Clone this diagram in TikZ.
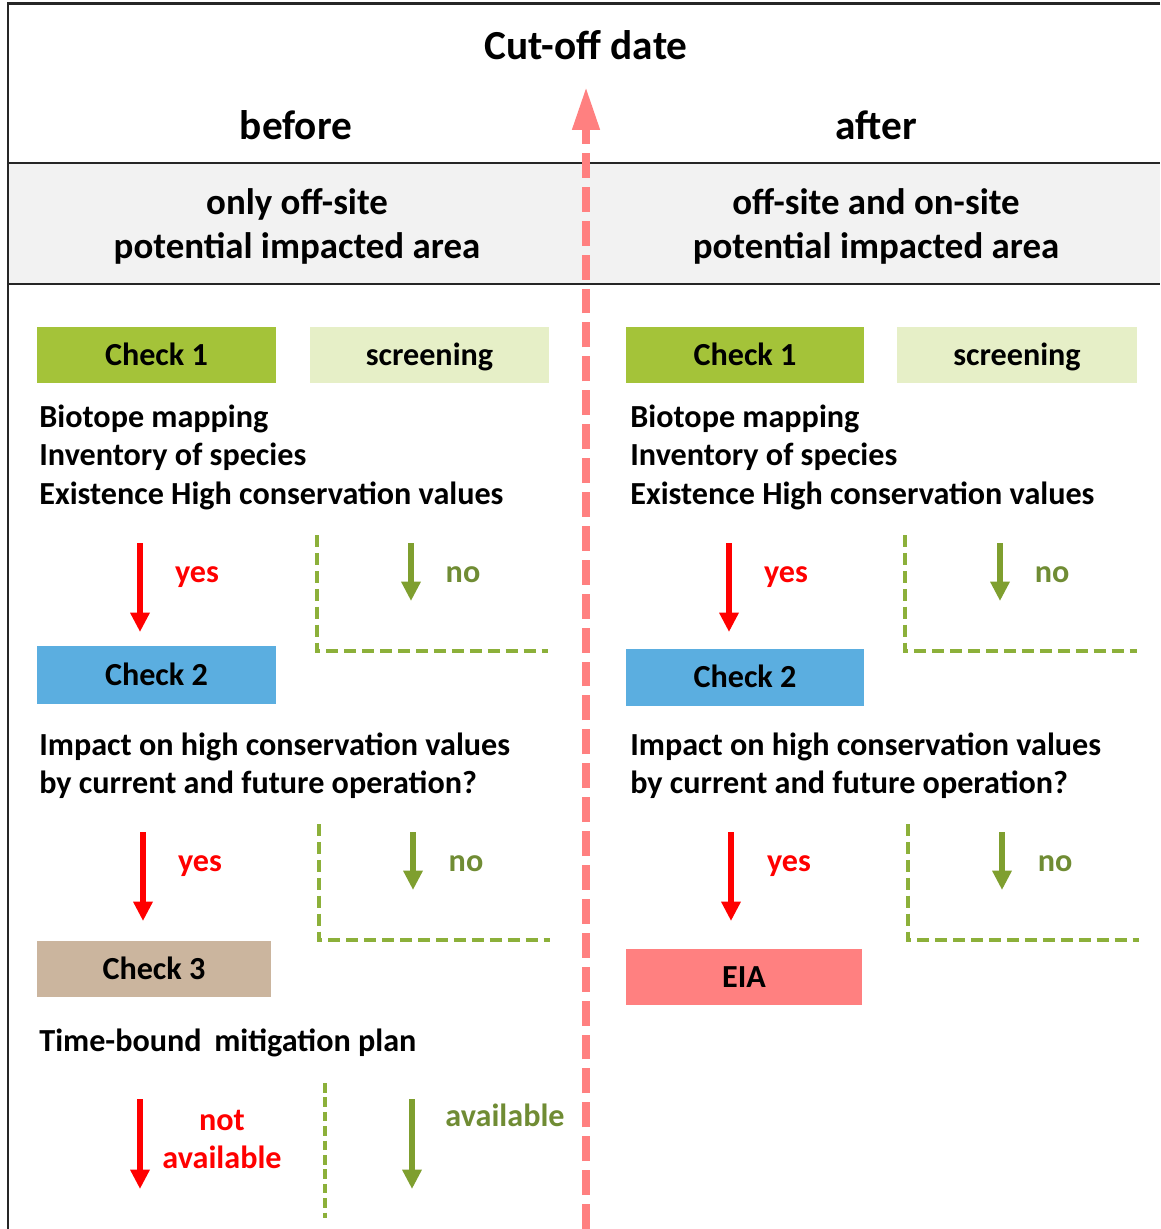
\documentclass[tikz,border=0pt]{standalone}
\usepackage{fontspec}
\setmainfont{Carlito}
\usepackage{tikz}
\usetikzlibrary{arrows.meta}
\usetikzlibrary{positioning}
\usepackage{color}
\definecolor{checkgreen}{RGB}{164,195,57}
\definecolor{screengreen}{RGB}{230,239,199}
\definecolor{checkblue}{RGB}{91,174,224}
\definecolor{checktan}{RGB}{203,181,158}
\definecolor{eiared}{RGB}{255,128,128}
\definecolor{cutred}{RGB}{255,128,128}
\definecolor{notext}{RGB}{112,140,52}
\definecolor{noarrowgreen}{RGB}{127,159,47}
\definecolor{nodash}{RGB}{140,176,58}
\definecolor{bandgray}{RGB}{242,242,242}
\definecolor{rulegray}{RGB}{38,38,38}

\tikzset{
  bodyfont/.style={font=\fontsize{18.3}{22}\selectfont\bfseries},
  stage/.style={bodyfont, minimum width=4.78cm, minimum height=1.12cm, inner sep=0pt,
                text height=11.8pt, text depth=0pt},
  txt/.style={bodyfont, anchor=base west, inner sep=0pt},
  yeslabel/.style={bodyfont, anchor=base, inner sep=0pt, text=red},
  nolabel/.style={bodyfont, anchor=base, inner sep=0pt, text=notext},
  yesarrow/.style={draw=red, line width=3.2pt, -{Triangle[width=10.5pt,length=11pt]}},
  noarrow/.style={draw=noarrowgreen, line width=3.2pt, -{Triangle[width=10.5pt,length=11pt]}},
  noframe/.style={draw=nodash, line width=2.2pt, dash pattern=on 6.8pt off 3.4pt},
}

\begin{document}
\begin{tikzpicture}[x=0.02cm, y=-0.02cm]
            % Frame to fix the page size
            \useasboundingbox (0,0) rectangle (1160,1229);
            % Header band and rules
            \fill[bandgray] (8,163) rectangle (1160,284);
            \draw[rulegray, line width=1.7pt] (1160,4) -- (8,4) -- (8,1229);
            \draw[rulegray, line width=1.7pt] (8,163) -- (1160,163);
            \draw[rulegray, line width=1.7pt] (8,284) -- (1160,284);
            % Headings
            \node[anchor=base, inner sep=0pt, font=\fontsize{23.5}{28}\selectfont\bfseries] (cutoff) at (586,60) {Cut-off date};
            \node[anchor=base, inner sep=0pt, font=\fontsize{23.5}{28}\selectfont\bfseries] (before) at (296,140) {before};
            \node[anchor=base, inner sep=0pt, font=\fontsize{23.5}{28}\selectfont\bfseries] (after) at (876,140) {after};
            \node[anchor=base, inner sep=0pt, font=\fontsize{21}{25}\selectfont\bfseries] (offsite) at (297,215) {only off-site};
            \node[anchor=base, inner sep=0pt, font=\fontsize{21}{25}\selectfont\bfseries] (offarea) at (297,259) {potential impacted area};
            \node[anchor=base, inner sep=0pt, font=\fontsize{21}{25}\selectfont\bfseries] (onsite) at (876,215) {off-site and on-site};
            \node[anchor=base, inner sep=0pt, font=\fontsize{21}{25}\selectfont\bfseries] (onarea) at (876,259) {potential impacted area};

            % BEFORE: check 1
            \node[stage, fill=checkgreen] (checkoneL) at (156.5,355) {Check 1};
            \node[stage, fill=screengreen] (screenL) at (429.5,355) {screening};
            \node[txt] (bioL) at (39,427) {Biotope mapping};
            \node[txt] (invL) at (39,465.5) {Inventory of species};
            \node[txt] (hcvL) at (39,504) {Existence High conservation values};
            \coordinate (yesoneLa) at (140,543);
            \coordinate (yesoneLb) at (140,632);
            \coordinate (nooneLa) at (411,543);
            \coordinate (nooneLb) at (411,601);
            \coordinate (frameoneLa) at (317,535);
            \coordinate (frameoneLb) at (317,651);
            \coordinate (frameoneLc) at (548,651);
            \draw[yesarrow] (yesoneLa) -- (yesoneLb);
            \draw[noarrow] (nooneLa) -- (nooneLb);
            \draw[noframe] (frameoneLa) -- (frameoneLb) -- (frameoneLc);
            \node[yeslabel] (yesoneL) at (197,582) {yes};
            \node[nolabel] (nooneL) at (463,582) {no};

            % BEFORE: check 2
            \node[stage, fill=checkblue, minimum height=1.16cm] (checktwoL) at (156.5,675) {Check 2};
            \node[txt] (impactL) at (39,755) {Impact on high conservation values};
            \node[txt] (operL) at (39,793) {by current and future operation?};
            \coordinate (yestwoLa) at (143,832);
            \coordinate (yestwoLb) at (143,921);
            \coordinate (notwoLa) at (413,832);
            \coordinate (notwoLb) at (413,890);
            \coordinate (frametwoLa) at (319,824);
            \coordinate (frametwoLb) at (319,940);
            \coordinate (frametwoLc) at (550,940);
            \draw[yesarrow] (yestwoLa) -- (yestwoLb);
            \draw[noarrow] (notwoLa) -- (notwoLb);
            \draw[noframe] (frametwoLa) -- (frametwoLb) -- (frametwoLc);
            \node[yeslabel] (yestwoL) at (200,871) {yes};
            \node[nolabel] (notwoL) at (466,871) {no};

            % BEFORE: check 3
            \node[stage, fill=checktan, minimum width=4.68cm] (checkthree) at (154,969) {Check 3};
            \node[txt] (mitigation) at (39,1051) {Time-bound\, mitigation plan};
            \coordinate (notavaila) at (140,1099);
            \coordinate (notavailb) at (140,1189);
            \coordinate (availa) at (412,1099);
            \coordinate (availb) at (412,1189);
            \coordinate (splita) at (325,1083);
            \coordinate (splitb) at (325,1218);
            \draw[yesarrow] (notavaila) -- (notavailb);
            \draw[noarrow] (availa) -- (availb);
            \draw[draw=nodash, line width=1.9pt, dash pattern=on 5.4pt off 2.8pt] (splita) -- (splitb);
            \node[yeslabel] (notlabel) at (222,1130) {not};
            \node[yeslabel] (notavail) at (222,1168) {available};
            \node[nolabel] (avail) at (505,1126) {available};

            % AFTER: check 1
            \node[stage, fill=checkgreen, minimum width=4.76cm] (checkoneR) at (745,355) {Check 1};
            \node[stage, fill=screengreen, minimum width=4.80cm] (screenR) at (1017,355) {screening};
            \node[txt] (bioR) at (630,427) {Biotope mapping};
            \node[txt] (invR) at (630,465.5) {Inventory of species};
            \node[txt] (hcvR) at (630,504) {Existence High conservation values};
            \coordinate (yesoneRa) at (729,543);
            \coordinate (yesoneRb) at (729,632);
            \coordinate (nooneRa) at (1000,543);
            \coordinate (nooneRb) at (1000,601);
            \coordinate (frameoneRa) at (905,535);
            \coordinate (frameoneRb) at (905,651);
            \coordinate (frameoneRc) at (1137,651);
            \draw[yesarrow] (yesoneRa) -- (yesoneRb);
            \draw[noarrow] (nooneRa) -- (nooneRb);
            \draw[noframe] (frameoneRa) -- (frameoneRb) -- (frameoneRc);
            \node[yeslabel] (yesoneR) at (786,582) {yes};
            \node[nolabel] (nooneR) at (1052,582) {no};

            % AFTER: check 2
            \node[stage, fill=checkblue, minimum width=4.76cm, minimum height=1.14cm] (checktwoR) at (745,677.5) {Check 2};
            \node[txt] (impactR) at (630,755) {Impact on high conservation values};
            \node[txt] (operR) at (630,793) {by current and future operation?};
            \coordinate (yestwoRa) at (731,832);
            \coordinate (yestwoRb) at (731,921);
            \coordinate (notwoRa) at (1002,832);
            \coordinate (notwoRb) at (1002,890);
            \coordinate (frametwoRa) at (908,824);
            \coordinate (frametwoRb) at (908,940);
            \coordinate (frametwoRc) at (1139,940);
            \draw[yesarrow] (yestwoRa) -- (yestwoRb);
            \draw[noarrow] (notwoRa) -- (notwoRb);
            \draw[noframe] (frametwoRa) -- (frametwoRb) -- (frametwoRc);
            \node[yeslabel] (yestwoR) at (789,871) {yes};
            \node[nolabel] (notwoR) at (1055,871) {no};
            \node[stage, fill=eiared, minimum width=4.72cm] (eia) at (744,977) {EIA};

            % Cut-off line
            \coordinate (cutbot) at (586,1229);
            \coordinate (cuttop) at (586,87);
            \draw[cutred, line width=4.5pt, dash pattern=on 14.2pt off 5.1pt,
                  -{Triangle[width=14.7pt,length=24.4pt]}] (cutbot) -- (cuttop);
        \end{tikzpicture}
\end{document}
